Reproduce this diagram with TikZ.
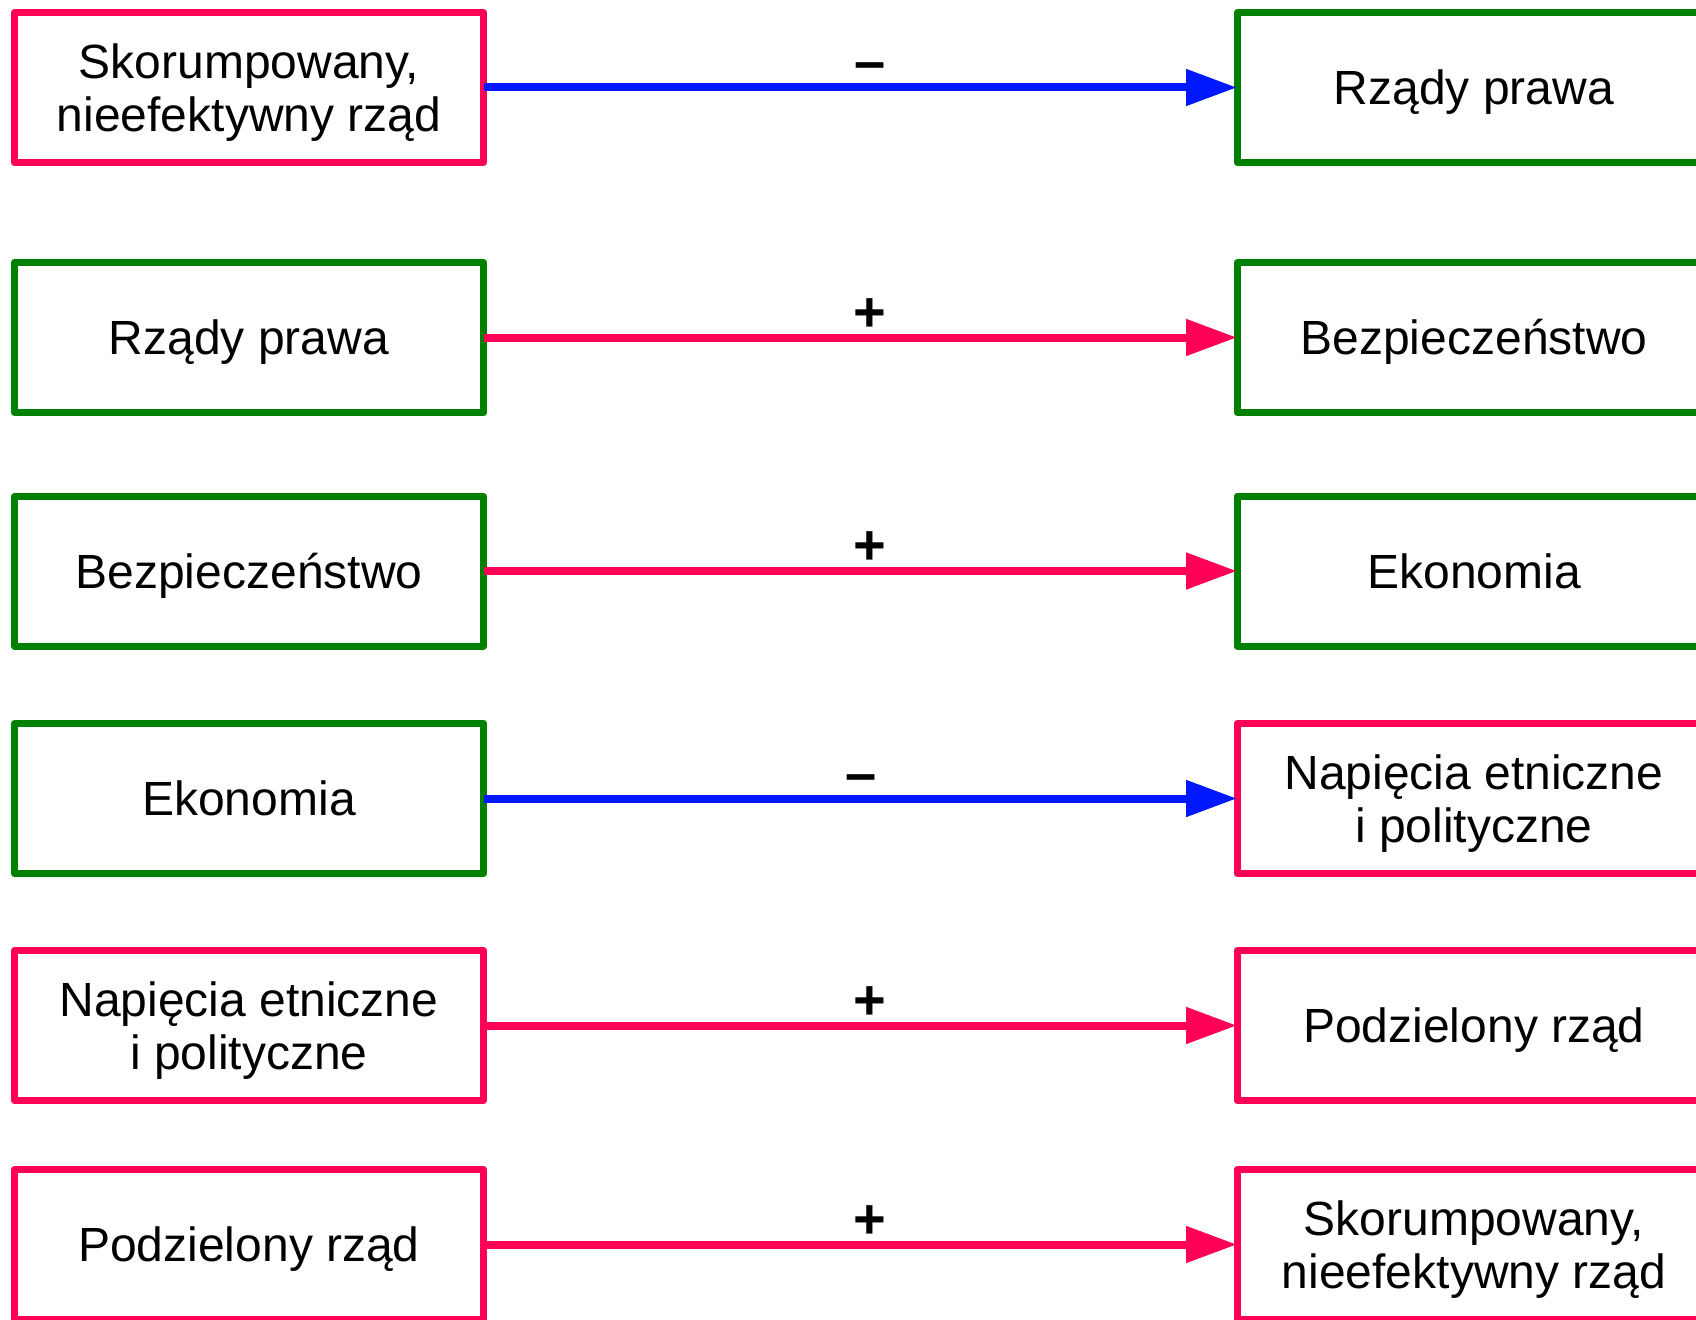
\documentclass[tikz,border=0pt]{standalone}
\usepackage{fontspec}
\setmainfont{Liberation Sans}
\usetikzlibrary{arrows.meta}

\definecolor{badred}{RGB}{255,0,86}
\definecolor{goodgreen}{RGB}{0,128,0}
\definecolor{linkblue}{RGB}{0,24,255}

% two centred lines; the tabular's baseline is that of its first line
\newcommand\twolines[2]{\begin{tabular}[t]{@{}c@{}}#1\\#2\end{tabular}}

\tikzset{
  card/.style={draw=#1, line width=7pt, line join=round, minimum height=150pt,
               inner sep=0pt, outer sep=0pt},
  leftcard/.style={card=#1, minimum width=469pt},
  rightcard/.style={card=#1, minimum width=475pt},
  caption/.style={font=\fontsize{48}{53}\selectfont, inner sep=0pt, anchor=base},
  link/.style={draw=#1, line width=8pt, -{Triangle[length=51pt,width=35pt]}},
  sign/.style={font=\fontsize{56}{60}\selectfont\bfseries, inner sep=0pt, anchor=base},
}

\begin{document}
\begin{tikzpicture}[x=1pt,y=-1pt]
\useasboundingbox (0,0) rectangle (1696,1319);

% ---- boxes: left column and right column ----
\node[leftcard=badred]     (L1) at (249,87.5)   {};
\node[rightcard=goodgreen] (R1) at (1474.5,87.5) {};
\node[leftcard=goodgreen]  (L2) at (249,337.5)  {};
\node[rightcard=goodgreen] (R2) at (1474.5,337.5) {};
\node[leftcard=goodgreen]  (L3) at (249,571)    {};
\node[rightcard=goodgreen] (R3) at (1474.5,571) {};
\node[leftcard=goodgreen]  (L4) at (249,798.5)  {};
\node[rightcard=badred]    (R4) at (1474.5,798.5) {};
\node[leftcard=badred]     (L5) at (249,1025.5) {};
\node[rightcard=badred]    (R5) at (1474.5,1025.5) {};
\node[leftcard=badred]     (L6) at (249,1244.5) {};
\node[rightcard=badred]    (R6) at (1474.5,1244.5) {};

% ---- box texts ----
\node[caption] (tL1) at (249,78.5)    {\twolines{Skorumpowany,}{nieefektywny rząd}};
\node[caption] (tR1) at (1474,104.5)  {Rządy prawa};
\node[caption] (tL2) at (249,354.5)   {Rządy prawa};
\node[caption] (tR2) at (1474,354.5)  {Bezpieczeństwo};
\node[caption] (tL3) at (249,588)     {Bezpieczeństwo};
\node[caption] (tR3) at (1474,588)    {Ekonomia};
\node[caption] (tL4) at (249,815.5)   {Ekonomia};
\node[caption] (tR4) at (1474,789.5)  {\twolines{Napięcia etniczne}{i polityczne}};
\node[caption] (tL5) at (249,1016.5)  {\twolines{Napięcia etniczne}{i polityczne}};
\node[caption] (tR5) at (1474,1042.5) {Podzielony rząd};
\node[caption] (tL6) at (249,1261.5)  {Podzielony rząd};
\node[caption] (tR6) at (1474,1235.5) {\twolines{Skorumpowany,}{nieefektywny rząd}};

% ---- influences ----
\draw[link=linkblue] (L1.east) -- (R1.west);
\draw[link=badred]   (L2.east) -- (R2.west);
\draw[link=badred]   (L3.east) -- (R3.west);
\draw[link=linkblue] (L4.east) -- (R4.west);
\draw[link=badred]   (L5.east) -- (R5.west);
\draw[link=badred]   (L6.east) -- (R6.west);

% ---- signs of the influences ----
\node[sign] (s1) at (870,81)    {–};
\node[sign] (s2) at (870,331)   {+};
\node[sign] (s3) at (870,564.5) {+};
\node[sign] (s4) at (861,792)   {–};
\node[sign] (s5) at (870,1019)  {+};
\node[sign] (s6) at (870,1238)  {+};
\end{tikzpicture}
\end{document}
